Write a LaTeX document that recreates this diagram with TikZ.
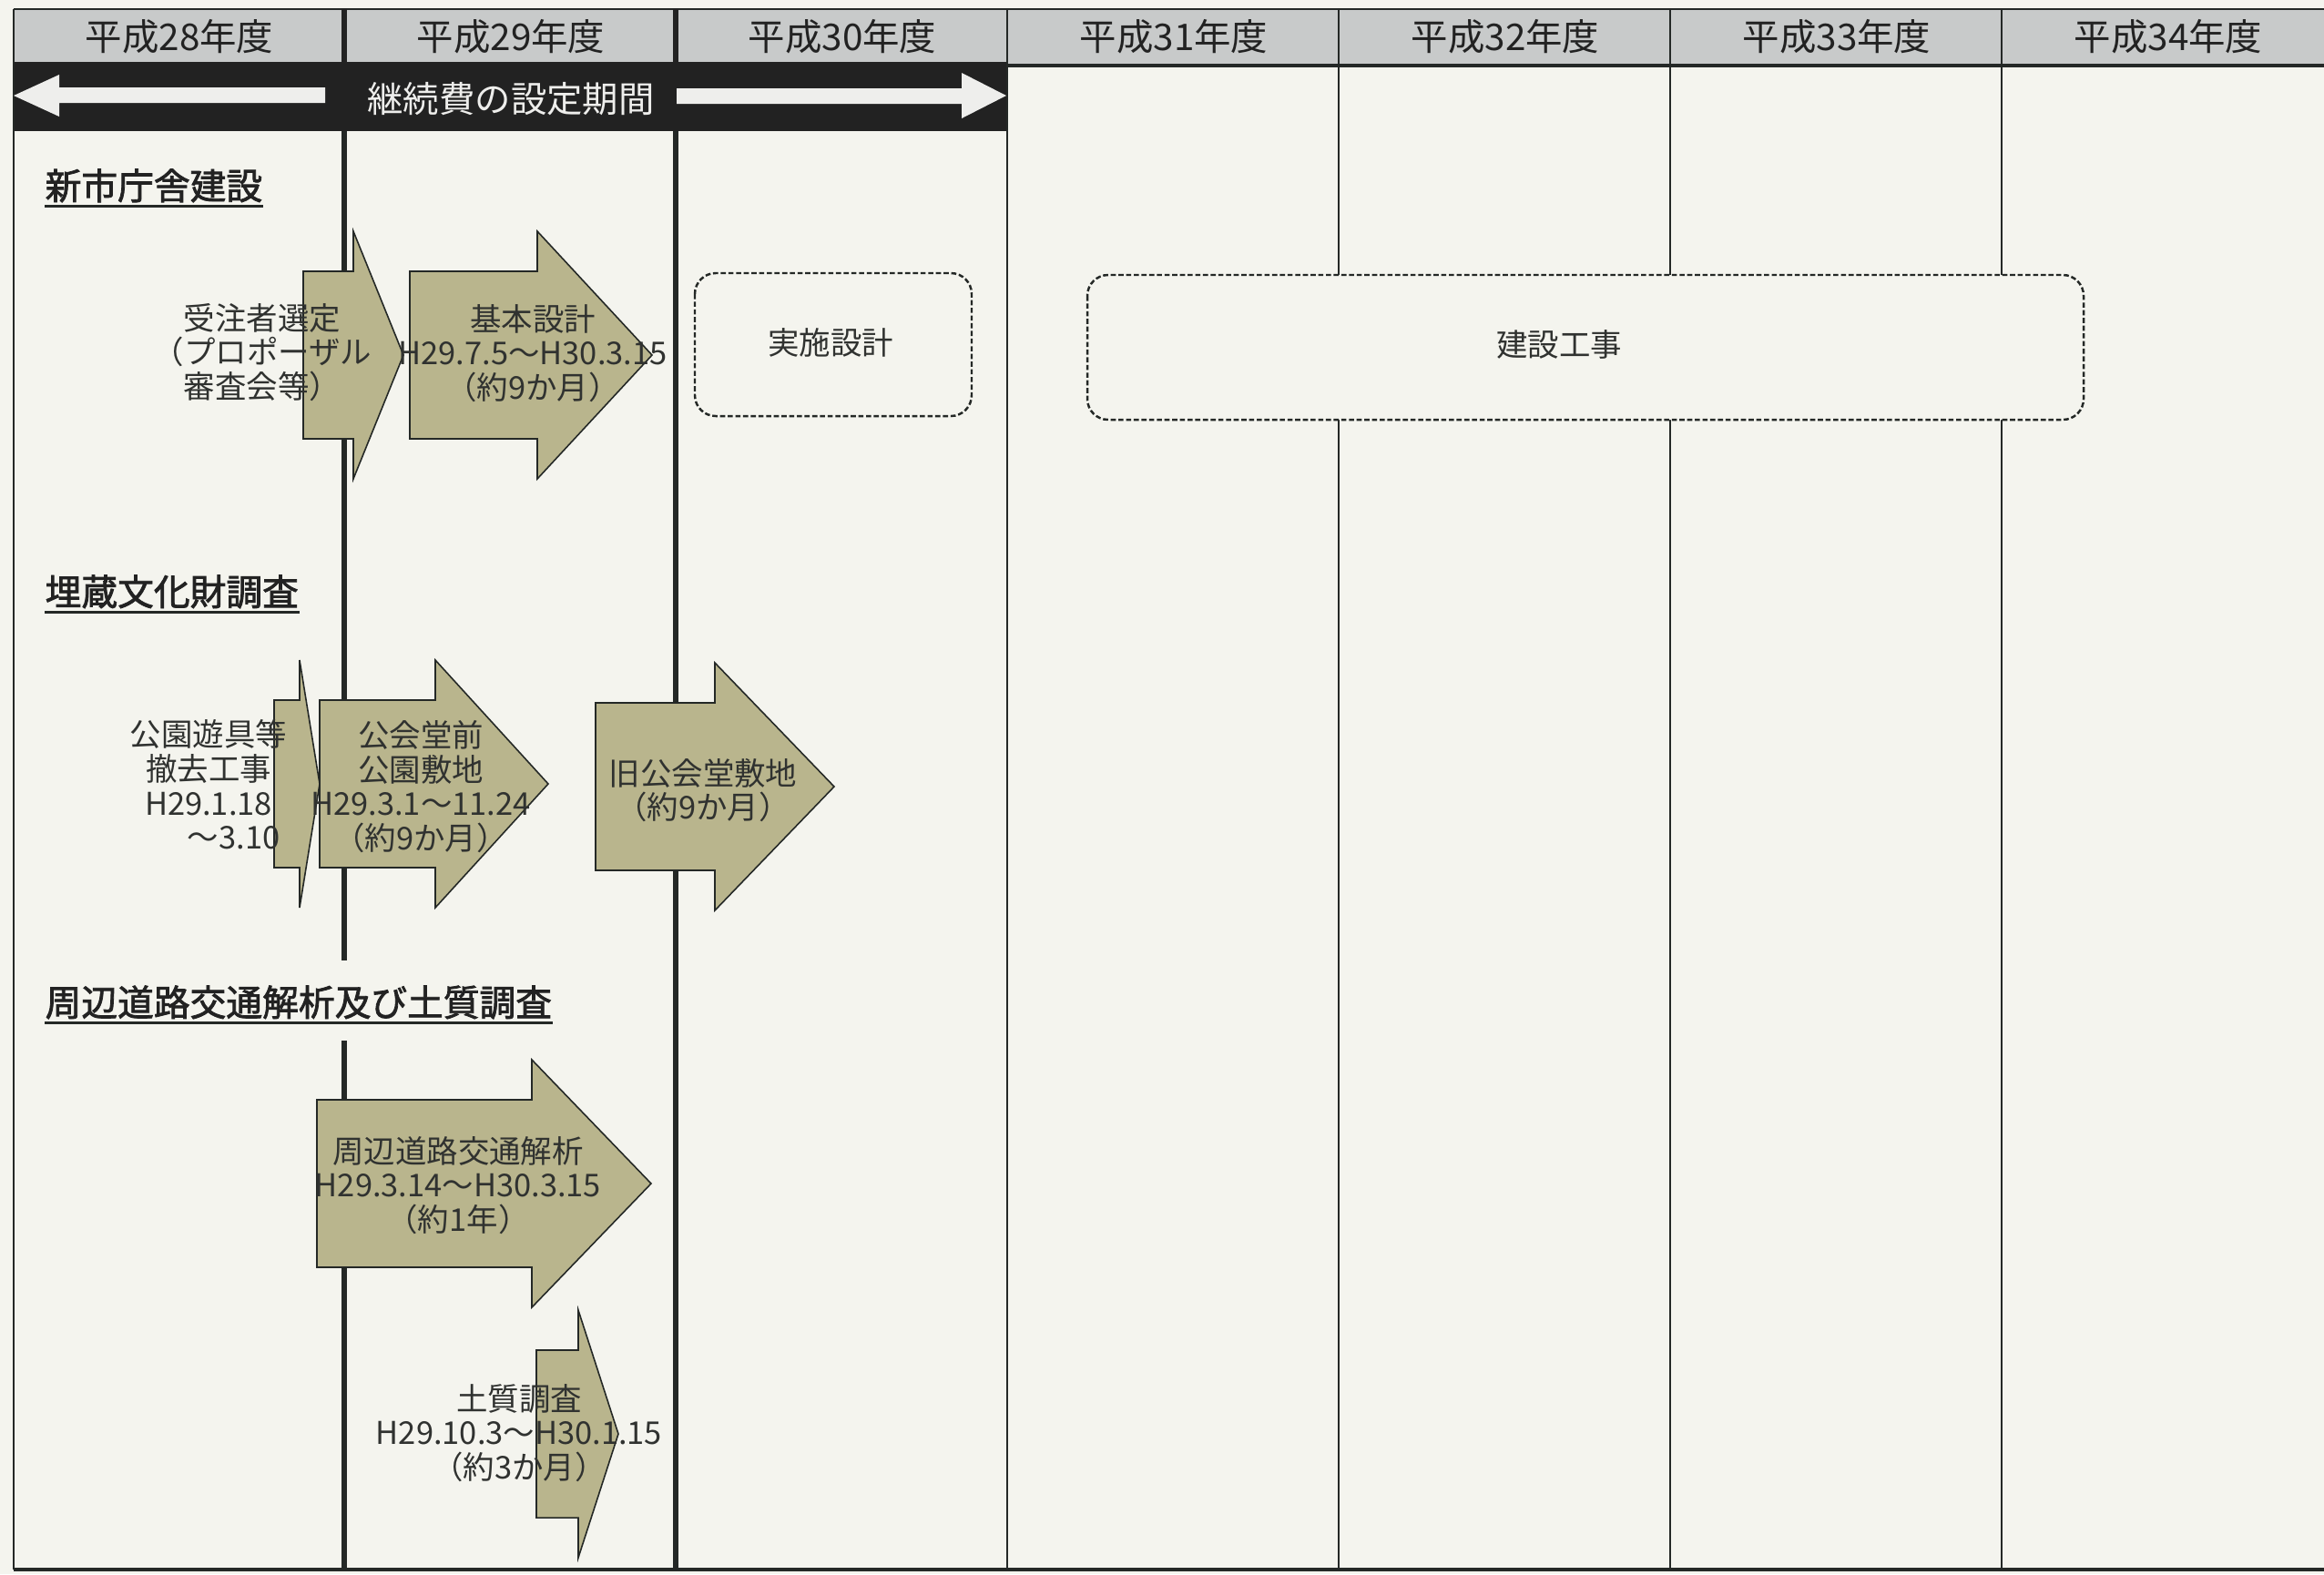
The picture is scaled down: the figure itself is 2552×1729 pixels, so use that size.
\documentclass[tikz,border=0pt]{standalone}
\usepackage{fontspec}
\setmainfont{Noto Sans CJK JP}[AutoFakeBold=2]
\usepackage{xcolor}
\usepackage{tikz}

\definecolor{papel}{RGB}{244,244,238}
\definecolor{gris}{RGB}{200,202,202}
\definecolor{banda}{RGB}{34,34,34}
\definecolor{blanco}{RGB}{238,238,236}
\definecolor{caqui}{RGB}{185,181,141}
\definecolor{linea}{RGB}{36,40,38}
\definecolor{tinta}{RGB}{34,34,34}
\definecolor{texto}{RGB}{48,50,48}

\begin{document}
\begin{tikzpicture}[x=0.01cm,y=-0.01cm,
	yearlbl/.style={text=tinta,inner sep=0pt,font=\fontsize{11.5}{13}\selectfont},
	head/.style={anchor=south west,inner sep=0pt,text=tinta,font=\fontsize{11.3}{13}\selectfont\bfseries},
	lbl/.style={align=center,inner sep=0pt,text=texto,font=\fontsize{9.8}{10.7}\selectfont},
	blockarrow/.style={fill=caqui,draw=linea,line width=0.45pt,line join=miter},
	phasebox/.style={fill=papel,draw=linea,line width=0.7pt,dash pattern=on 1.6pt off 0.8pt,rounded corners=6.5pt}]
		\useasboundingbox (0,0) rectangle (2552,1729);
		\fill[papel] (0,0) rectangle (2552,1729);
		% cabecera de los años
		\foreach \Xc in {0,...,6}
		{
			\fill[gris] ({15+364*\Xc},10) rectangle ({min(15+364*(\Xc+1),2552)},70);
		}
		\fill[banda] (15,68) rectangle (1106,144);
		\draw[linea,line width=0.8pt] (15,10) -- (2552,10);
		\draw[linea,line width=1.4pt] (1106,72) -- (2552,72);
		\foreach \Xc in {378,742}
		{
			\draw[banda,line width=1.7pt] (\Xc,10) -- (\Xc,68);
		}
		% lineas verticales
		\foreach \Xc in {15,1106,1470,1834,2198}
		{
			\draw[linea,line width=0.7pt] (\Xc,10) -- (\Xc,1724);
		}
		\draw[linea,line width=1.7pt] (378,144) -- (378,1055);
		\draw[linea,line width=1.7pt] (378,1143) -- (378,1724);
		\draw[linea,line width=1.7pt] (742,144) -- (742,1724);
		\draw[linea,line width=1.1pt] (15,1724) -- (2552,1724);
		\foreach \Xc/\Texto in {0/28,1/29,2/30,3/31,4/32,5/33,6/34}
		{
			\node[yearlbl] (y\Texto) at ({197+364*\Xc},40) {平成\Texto 年度};
		}
		% periodo
		\fill[blanco] (15,105) -- (65,82) -- (65,96) -- (357,96) -- (357,113) -- (65,113) -- (65,128) -- cycle;
		\fill[blanco] (1105,105) -- (1056,80) -- (1056,97) -- (743,97) -- (743,114) -- (1056,114) -- (1056,130) -- cycle;
		\node[text=blanco,inner sep=0pt,font=\fontsize{11.2}{13}\selectfont] (periodo) at (561,109) {継続費の設定期間};
		% fases
		\draw[phasebox] (763,300) rectangle (1067,457);
		\draw[phasebox] (1194,302) rectangle (2288,461);
		\node[lbl] (jisshi) at (912,376) {実施設計};
		\node[lbl] (kensetsu) at (1712,378) {建設工事};
		\foreach \Xa/\Xb/\Xt/\Yc in 
		{333/388/443/390, 450/590/716/390, 301/329/351/861, 351/478/602/861,
		654/785/916/864, 348/584/715/1300, 589/635/679/1575}
		{
			\filldraw[blockarrow] (\Xa,{\Yc-92}) -- (\Xb,{\Yc-92}) -- (\Xb,{\Yc-136})
			-- (\Xt,\Yc) -- (\Xb,{\Yc+136}) -- (\Xb,{\Yc+92}) -- (\Xa,{\Yc+92}) -- cycle;
		}
		% titulos
		\node[head] (h1) at (49,223) {新市庁舎建設};
		\node[head] (h2) at (49,669) {埋蔵文化財調査};
		\node[head] (h3) at (49,1120) {周辺道路交通解析及び土質調査};
		\foreach \Xc in {h1,h2,h3}
		{
			\draw[linea,line width=1pt] ([yshift=-1pt]\Xc.south west) -- ([yshift=-1pt]\Xc.south east);
		}
		\node[lbl] (juchu) at (288,387) {受注者選定\\（プロポーザル\\審査会等）};
		\node[lbl] (kihon) at (585,388) {基本設計\\H29.7.5～H30.3.15\\（約9か月）};
		\node[lbl] (tekkyo) at (229,862) {公園遊具等\\撤去工事\\H29.1.18\\\hspace*{1.6em}～3.10};
		\node[lbl] (mae) at (462,864) {公会堂前\\公園敷地\\H29.3.1～11.24\\（約9か月）};
		\node[lbl] (kyu) at (772,868) {旧公会堂敷地\\（約9か月）};
		\node[lbl] (kotsu) at (503,1302) {周辺道路交通解析\\H29.3.14～H30.3.15\\（約1年）};
		\node[lbl] (doshitsu) at (570,1574) {土質調査\\H29.10.3～H30.1.15\\（約3か月）};
\end{tikzpicture}
\end{document}
